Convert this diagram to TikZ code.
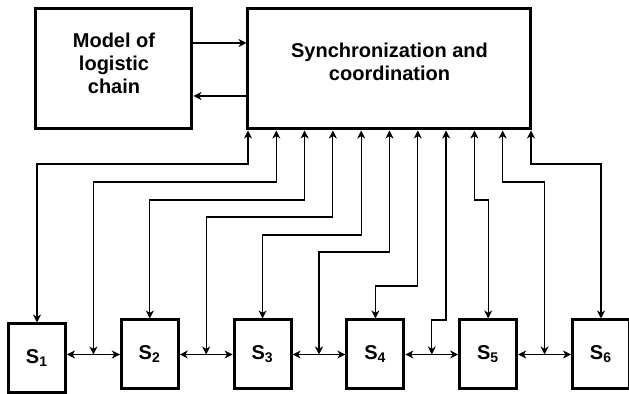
\documentclass[tikz,border=0pt]{standalone}
\usepackage{fontspec}
\setmainfont{Liberation Sans}
\usetikzlibrary{arrows.meta,calc}

\begin{document}
\begin{tikzpicture}[x=0.5pt,y=-0.5pt,semithick,
    every node/.style={font=\fontsize{10}{11.5}\selectfont\bfseries},
    bigbox/.style={draw,line width=1.5pt,minimum height=60pt},
    sbox/.style={draw,line width=1.5pt,minimum width=28.5pt,minimum height=34.5pt},
    >={Stealth[length=4pt,width=4pt,inset=1.2pt]}]
    \useasboundingbox(0,0)rectangle(629,394);
    % upper blocks
    \node[bigbox,minimum width=78pt](model)at(114,69){};
    \node[align=center](modeltext)at(114,63){Model of\\logistic\\chain};
    \node[bigbox,minimum width=141.5pt](sync)at(389.5,69){};
    \node[align=center](synctext)at(389.5,62){Synchronization and\\coordination};
    \draw[->]([yshift=13pt]model.east)--([yshift=13pt]sync.west);
    \draw[<-]([yshift=-13.5pt]model.east)--([yshift=-13.5pt]sync.west);
    % chain of subsystems
    \foreach \i in {1,...,6}
      \node[sbox](s\i)at({37+112.8*(\i-1)},{\i==1 ? 358.5 : 354.5}){S\textsubscript{\i}};
    \foreach \i/\j in {1/2,2/3,3/4,4/5,5/6}{
      \draw[<->](s\i.east|-s\j.west)--(s\j.west);
      \path(s\i.east|-s\j.west)--coordinate[midway](m\i)(s\j.west);
    }
    % links to synchronization block
    \foreach \k/\lev/\t in {0/164/s1.north,1/182/m1,2/200/s2.north,3/217/m2,
        4/235/s3.north,5/252/m3,6/286/s4.north,7/320/m4,8/200/s5.north,
        9/182/m5,10/164/s6.north}
      \draw[<->]($(sync.south)+({28.3*(\k-5)},0)$)--++(0,{\lev-130.5})-|(\t);
  \end{tikzpicture}
\end{document}
